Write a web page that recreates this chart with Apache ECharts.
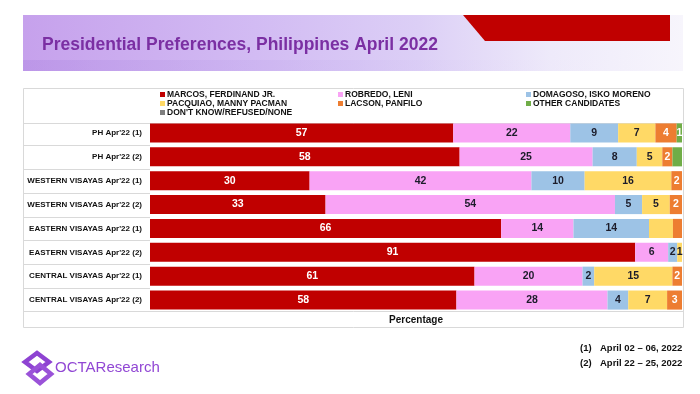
<!DOCTYPE html>
<html>
<head>
<meta charset="utf-8">
<script src="https://cdn.jsdelivr.net/npm/echarts@6/dist/echarts.min.js"></script>
<style>
html,body{margin:0;padding:0;background:#fff;}
#c{width:700px;height:394px;}
</style>
</head>
<body>
<div id="c"></div>
<script>
// ---- data ----
const categories = [
  "PH Apr'22 (1)", "PH Apr'22 (2)",
  "WESTERN VISAYAS Apr'22 (1)", "WESTERN VISAYAS Apr'22 (2)",
  "EASTERN VISAYAS Apr'22 (1)", "EASTERN VISAYAS Apr'22 (2)",
  "CENTRAL VISAYAS Apr'22 (1)", "CENTRAL VISAYAS Apr'22 (2)"
];
const seriesNames = [
  "MARCOS, FERDINAND JR.", "ROBREDO, LENI", "DOMAGOSO, ISKO MORENO",
  "PACQUIAO, MANNY PACMAN", "LACSON, PANFILO", "OTHER CANDIDATES",
  "DON'T KNOW/REFUSED/NONE"
];
const marcos   = [57, 58.2, 30, 33, 66, 91.2, 61, 57.6];
const robredo  = [22, 25, 41.7, 54.4, 13.6, 6.2, 20.3, 28.4];
const domagoso = [9, 8.3, 10, 5.1, 14.2, 1.7, 2.2, 3.9];
const pacquiao = [7, 4.8, 16.3, 5.2, 4.5, 0.9, 14.7, 7.3];
const lacson   = [4, 1.9, 2, 2.3, 1.7, 0, 1.8, 2.8];
const others   = [1, 1.8, 0, 0, 0, 0, 0, 0];
const dontKnow = [0, 0, 0, 0, 0, 0, 0, 0];
// cells printed without a value label in the source (series index -> row indices)
const unlabeled = {3: [4], 4: [4], 5: [1]};

const values = [marcos, robredo, domagoso, pacquiao, lacson, others, dontKnow];
const colors = ['#c00000', '#f9a3f5', '#9dc3e6', '#ffd966', '#ed7d31', '#70ad47', '#7f7f7f'];
const labelColors = ['#ffffff', '#1c1c2a', '#1c1c2a', '#1c1c2a', '#ffffff', '#ffffff', '#ffffff'];

const F = "Arial, 'Liberation Sans', sans-serif";

const chart = echarts.init(document.getElementById('c'));

const series = values.map((arr, si) => ({
  name: seriesNames[si],
  type: 'bar',
  stack: 'total',
  barCategoryGap: '20%',
  itemStyle: {color: colors[si]},
  label: {
    show: true,
    position: 'inside',
    color: labelColors[si],
    fontFamily: F,
    fontWeight: 'bold',
    fontSize: 10.5,
    formatter: p => {
      if (!p.value) return '';
      if ((unlabeled[si] || []).includes(p.dataIndex)) return '';
      return String(Math.round(p.value));
    }
  },
  emphasis: {disabled: true},
  data: arr
}));

function legendCol(left, names) {
  return {
    left: left, top: 90, orient: 'vertical', padding: 0,
    itemGap: 0, itemWidth: 5, itemHeight: 5, icon: 'rect',
    selectedMode: false,
    data: names,
    textStyle: {fontFamily: F, fontWeight: 'bold', fontSize: 8.5, color: '#111', lineHeight: 8.5, padding: [0, 0, 0, -3]}
  };
}

const graphics = [
  {type: 'rect', shape: {x: 23, y: 15, width: 660, height: 56}, z: -10,
   style: {fill: new echarts.graphic.LinearGradient(0, 0, 1, 0, [
     {offset: 0, color: '#c6a1ec'},
     {offset: 0.35, color: '#d2bbf3'},
     {offset: 0.6, color: '#dccff6'},
     {offset: 0.8, color: '#eeeafa'},
     {offset: 1, color: '#f7f5fc'}
   ])}},
  {type: 'rect', shape: {x: 23, y: 60, width: 660, height: 11}, z: -9,
   style: {fill: new echarts.graphic.LinearGradient(0, 0, 1, 0, [
     {offset: 0, color: 'rgba(170,130,225,0.35)'},
     {offset: 0.5, color: 'rgba(200,180,240,0.25)'},
     {offset: 1, color: 'rgba(255,255,255,0.0)'}])}},
  {type: 'polygon', shape: {points: [[463, 15], [670, 15], [670, 41], [485, 41]]}, z: -8,
   style: {fill: '#c00000'}},
  {type: 'text', left: 42, top: 36, z: 5,
   style: {text: 'Presidential Preferences, Philippines April 2022', fill: '#7b2fa3',
           font: "bold 17.5px " + F}},
  // table frame
  {type: 'rect', shape: {x: 23.5, y: 88.5, width: 660, height: 239}, z: -5,
   style: {fill: '#fff', stroke: '#d9d9d9', lineWidth: 1}},
  {type: 'line', shape: {x1: 23.5, y1: 123.5, x2: 683.5, y2: 123.5}, z: -4, style: {stroke: '#d9d9d9', lineWidth: 1}},
  {type: 'line', shape: {x1: 23.5, y1: 311.5, x2: 683.5, y2: 311.5}, z: -4, style: {stroke: '#d9d9d9', lineWidth: 1}},
  // footnotes
  {type: 'text', left: 580, top: 343, style: {text: '(1)', fill: '#111', font: "bold 9.5px " + F}},
  {type: 'text', left: 600, top: 343, style: {text: 'April 02 \u2013 06, 2022', fill: '#111', font: "bold 9.5px " + F}},
  {type: 'text', left: 580, top: 358, style: {text: '(2)', fill: '#111', font: "bold 9.5px " + F}},
  {type: 'text', left: 600, top: 358, style: {text: 'April 22 \u2013 25, 2022', fill: '#111', font: "bold 9.5px " + F}},
  // logo
  {type: 'polygon', shape: {points: [[25, 362], [37, 353], [49, 362], [37, 371]]},
   style: {fill: 'none', stroke: '#8e43d2', lineWidth: 4.5}},
  {type: 'polygon', shape: {points: [[29, 374], [40, 365], [51, 374], [40, 383]]},
   style: {fill: 'none', stroke: '#9a52d8', lineWidth: 4.5}},
  {type: 'text', left: 55, top: 360, style: {text: 'OCTAResearch', fill: '#9147d4', font: "15px " + F}}
];
// row separators in the label column
for (let k = 1; k < categories.length; k++) {
  const y = Math.round(121.1 + k * 23.86) + 0.5;
  graphics.push({type: 'line', shape: {x1: 23.5, y1: y, x2: 150, y2: y}, z: -4,
                 style: {stroke: '#d9d9d9', lineWidth: 1}});
}

chart.setOption({
  animation: false,
  backgroundColor: '#fff',
  grid: {left: 150, right: 18, top: 121, bottom: 82, containLabel: false},
  legend: [
    legendCol(160, [seriesNames[0], seriesNames[3], seriesNames[6]]),
    legendCol(338, [seriesNames[1], seriesNames[4]]),
    legendCol(526, [seriesNames[2], seriesNames[5]])
  ],
  xAxis: {
    type: 'value', min: 0, max: 100,
    name: 'Percentage', nameLocation: 'middle', nameGap: 3,
    nameTextStyle: {fontFamily: F, fontWeight: 'bold', fontSize: 10, color: '#111'},
    axisLine: {show: false}, axisTick: {show: false}, axisLabel: {show: false}, splitLine: {show: false}
  },
  yAxis: {
    type: 'category', inverse: true, data: categories,
    axisLine: {show: false}, axisTick: {show: false},
    axisLabel: {fontFamily: F, fontWeight: 'bold', fontSize: 8, color: '#111', margin: 8}
  },
  graphic: graphics,
  series: series
});
</script>
</body>
</html>
